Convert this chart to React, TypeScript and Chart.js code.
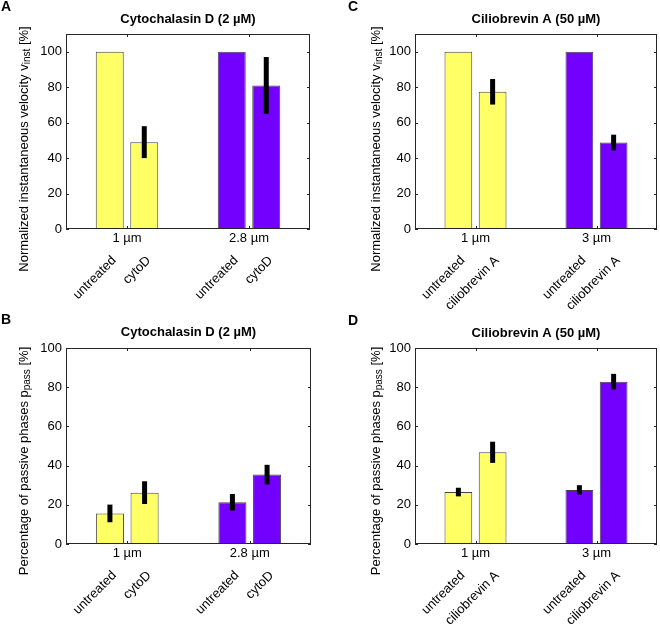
import { useEffect, useRef } from 'react';
import { Chart, registerables } from 'chart.js';

Chart.register(...registerables);

const FONT = "'Liberation Sans', Arial, Helvetica, sans-serif";
const YELLOW = 'rgb(255,255,102)';
const PURPLE = 'rgb(115,0,255)';
const AXIS = '#262626';
const EDGE = '#444444';

// ---- data ----
const groupsCyto = ['1 µm', '2.8 µm'];
const groupsCilio = ['1 µm', '3 µm'];
const condCyto = ['untreated', 'cytoD'];
const condCilio = ['untreated', 'ciliobrevin A'];
const yTicks = [0, 20, 40, 60, 80, 100];

// A: normalized velocity, cytochalasin D
const velUntreatedA = [100, 100];
const velCytoD = [49, 81];
const velCytoDErr = [9, 16];
// C: normalized velocity, ciliobrevin A
const velUntreatedC = [100, 100];
const velCilio = [77.4, 48.8];
const velCilioErr = [7.2, 4.4];
// B: passive phases, cytochalasin D
const passUntreatedB = [15.6, 21.3];
const passUntreatedBErr = [4.5, 4.2];
const passCytoD = [26.2, 35.4];
const passCytoDErr = [5.8, 5.0];
// D: passive phases, ciliobrevin A
const passUntreatedD = [26.5, 27.6];
const passUntreatedDErr = [2.2, 2.4];
const passCilio = [46.8, 82.8];
const passCilioErr = [5.4, 4.0];

const Y_AXIS_W = 36;
const X_AXIS_H = 20;

type Panel = {
  letter: string;
  title: string;
  yMain: string;
  ySub: string;
  yTail: string;
  groups: string[];
  conds: string[];
  series: number[][];
  errors: (number[] | null)[];
  yMax: number;
  pos: { x: number; y: number; w: number; h: number };
  box: { left: number; top: number; right: number; bottom: number };
  letterPos: { x: number; y: number };
  titleY: number;
  yTitle: { x: number; y: number };
};

const panels: Panel[] = [
  {
    letter: 'A', title: 'Cytochalasin D (2 µM)',
    yMain: 'Normalized instantaneous velocity v', ySub: 'inst', yTail: ' [%]',
    groups: groupsCyto, conds: condCyto,
    series: [velUntreatedA, velCytoD], errors: [null, velCytoDErr], yMax: 110,
    pos: { x: 0, y: 0, w: 330, h: 310 },
    box: { left: 66, top: 34, right: 310, bottom: 229 },
    letterPos: { x: 1, y: 0 }, titleY: 19, yTitle: { x: 24, y: 149 },
  },
  {
    letter: 'C', title: 'Ciliobrevin A (50 µM)',
    yMain: 'Normalized instantaneous velocity v', ySub: 'inst', yTail: ' [%]',
    groups: groupsCilio, conds: condCilio,
    series: [velUntreatedC, velCilio], errors: [null, velCilioErr], yMax: 110,
    pos: { x: 330, y: 0, w: 330, h: 310 },
    box: { left: 85, top: 34, right: 327, bottom: 229 },
    letterPos: { x: 18, y: 0 }, titleY: 19, yTitle: { x: 46, y: 149 },
  },
  {
    letter: 'B', title: 'Cytochalasin D (2 µM)',
    yMain: 'Percentage of passive phases p', ySub: 'pass', yTail: ' [%]',
    groups: groupsCyto, conds: condCyto,
    series: [passUntreatedB, passCytoD], errors: [passUntreatedBErr, passCytoDErr], yMax: 100,
    pos: { x: 0, y: 310, w: 330, h: 315 },
    box: { left: 66, top: 38, right: 311, bottom: 234 },
    letterPos: { x: 1, y: 3 }, titleY: 22, yTitle: { x: 24, y: 151 },
  },
  {
    letter: 'D', title: 'Ciliobrevin A (50 µM)',
    yMain: 'Percentage of passive phases p', ySub: 'pass', yTail: ' [%]',
    groups: groupsCilio, conds: condCilio,
    series: [passUntreatedD, passCilio], errors: [passUntreatedDErr, passCilioErr], yMax: 100,
    pos: { x: 330, y: 310, w: 330, h: 315 },
    box: { left: 85, top: 38, right: 327, bottom: 234 },
    letterPos: { x: 18, y: 4 }, titleY: 23, yTitle: { x: 46, y: 151 },
  },
];

function decorPlugin(p: Panel) {
  return {
    id: 'decor' + p.letter,
    afterDatasetsDraw(chart: any) {
      const ctx: CanvasRenderingContext2D = chart.ctx;
      const { left, top, right, bottom } = chart.chartArea;
      const xs = chart.scales.x;
      const ys = chart.scales.y;
      ctx.save();
      // error bars
      p.errors.forEach((errs, d) => {
        if (!errs) return;
        const meta = chart.getDatasetMeta(d);
        meta.data.forEach((el: any, j: number) => {
          const v = p.series[d][j];
          const e = errs[j];
          ctx.beginPath();
          ctx.strokeStyle = '#000';
          ctx.lineWidth = 5;
          ctx.lineCap = 'butt';
          ctx.moveTo(el.x, ys.getPixelForValue(v + e));
          ctx.lineTo(el.x, ys.getPixelForValue(v - e));
          ctx.stroke();
        });
      });
      // box
      ctx.strokeStyle = AXIS;
      ctx.lineWidth = 1;
      ctx.strokeRect(Math.round(left) + 0.5, Math.round(top) + 0.5, Math.round(right - left) - 1, Math.round(bottom - top) - 1);
      // inward ticks
      ctx.beginPath();
      yTicks.forEach((v) => {
        const y = Math.round(ys.getPixelForValue(v)) + 0.5;
        ctx.moveTo(left, y); ctx.lineTo(left + 3, y);
        ctx.moveTo(right, y); ctx.lineTo(right - 3, y);
      });
      p.groups.forEach((_, i) => {
        const x = Math.round(xs.getPixelForValue(i)) + 0.5;
        ctx.moveTo(x, bottom); ctx.lineTo(x, bottom - 3);
        ctx.moveTo(x, top); ctx.lineTo(x, top + 3);
      });
      ctx.stroke();
      // rotated condition labels
      ctx.fillStyle = '#000';
      ctx.font = `13px ${FONT}`;
      ctx.textAlign = 'right';
      ctx.textBaseline = 'alphabetic';
      p.conds.forEach((c, d) => {
        const meta = chart.getDatasetMeta(d);
        meta.data.forEach((el: any) => {
          ctx.save();
          ctx.translate(el.x + 7, bottom + 32);
          ctx.rotate(-Math.PI / 4);
          ctx.fillText(c, 0, 0);
          ctx.restore();
        });
      });
      // title
      ctx.font = `bold 13px ${FONT}`;
      ctx.textAlign = 'center';
      ctx.textBaseline = 'middle';
      ctx.fillText(p.title, (left + right) / 2, p.titleY);
      // panel letter
      ctx.font = `bold 14px ${FONT}`;
      ctx.textAlign = 'left';
      ctx.textBaseline = 'top';
      ctx.fillText(p.letter, p.letterPos.x, p.letterPos.y);
      // y title with subscript
      const mainFont = `13px ${FONT}`;
      const subFont = `10px ${FONT}`;
      ctx.font = mainFont;
      const w1 = ctx.measureText(p.yMain).width;
      const w3 = ctx.measureText(p.yTail).width;
      ctx.font = subFont;
      const w2 = ctx.measureText(p.ySub).width;
      const total = w1 + w2 + w3;
      ctx.translate(p.yTitle.x, p.yTitle.y);
      ctx.rotate(-Math.PI / 2);
      ctx.textAlign = 'left';
      ctx.textBaseline = 'middle';
      let x0 = -total / 2;
      ctx.font = mainFont;
      ctx.fillText(p.yMain, x0, 0);
      x0 += w1;
      ctx.font = subFont;
      ctx.fillText(p.ySub, x0, 3);
      x0 += w2;
      ctx.font = mainFont;
      ctx.fillText(p.yTail, x0, 0);
      ctx.restore();
    },
  };
}

function PanelChart({ p }: { p: Panel }) {
  const ref = useRef<HTMLCanvasElement>(null);
  useEffect(() => {
    const canvas = ref.current!;
    const chart = new Chart(canvas, {
      type: 'bar',
      data: {
        labels: p.groups,
        datasets: p.series.map((s, d) => ({
          label: p.conds[d],
          data: s,
          backgroundColor: [YELLOW, PURPLE],
          borderColor: EDGE,
          borderWidth: 1,
          categoryPercentage: 0.566,
          barPercentage: 0.81,
        })),
      },
      options: {
        animation: false,
        responsive: false,
        maintainAspectRatio: false,
        layout: {
          padding: {
            left: p.box.left - Y_AXIS_W,
            right: p.pos.w - p.box.right,
            top: p.box.top,
            bottom: p.pos.h - p.box.bottom - X_AXIS_H,
          },
        },
        plugins: {
          legend: { display: false },
          title: { display: false },
          tooltip: { enabled: false },
        },
        scales: {
          x: {
            type: 'category',
            offset: true,
            grid: { display: false, drawTicks: false },
            border: { display: false },
            ticks: { font: { family: FONT, size: 13 }, color: '#000', padding: 2, maxRotation: 0, autoSkip: false },
            afterFit: (s: any) => { s.height = X_AXIS_H; },
          },
          y: {
            type: 'linear',
            min: 0,
            max: p.yMax,
            grid: { display: false, drawTicks: false },
            border: { display: false },
            ticks: { font: { family: FONT, size: 13 }, color: '#000', padding: 4 },
            afterBuildTicks: (s: any) => { s.ticks = yTicks.map((v) => ({ value: v })); },
            afterFit: (s: any) => { s.width = Y_AXIS_W; },
          },
        },
      } as any,
      plugins: [decorPlugin(p)],
    });
    return () => chart.destroy();
  }, [p]);
  return (
    <canvas
      ref={ref}
      width={p.pos.w}
      height={p.pos.h}
      style={{ position: 'absolute', left: p.pos.x, top: p.pos.y, width: p.pos.w, height: p.pos.h }}
    />
  );
}

export default function App() {
  return (
    <div style={{ position: 'fixed', left: 0, top: 0, width: 660, height: 625, background: '#fff', overflow: 'hidden' }}>
      {panels.map((p) => (
        <PanelChart key={p.letter} p={p} />
      ))}
    </div>
  );
}
